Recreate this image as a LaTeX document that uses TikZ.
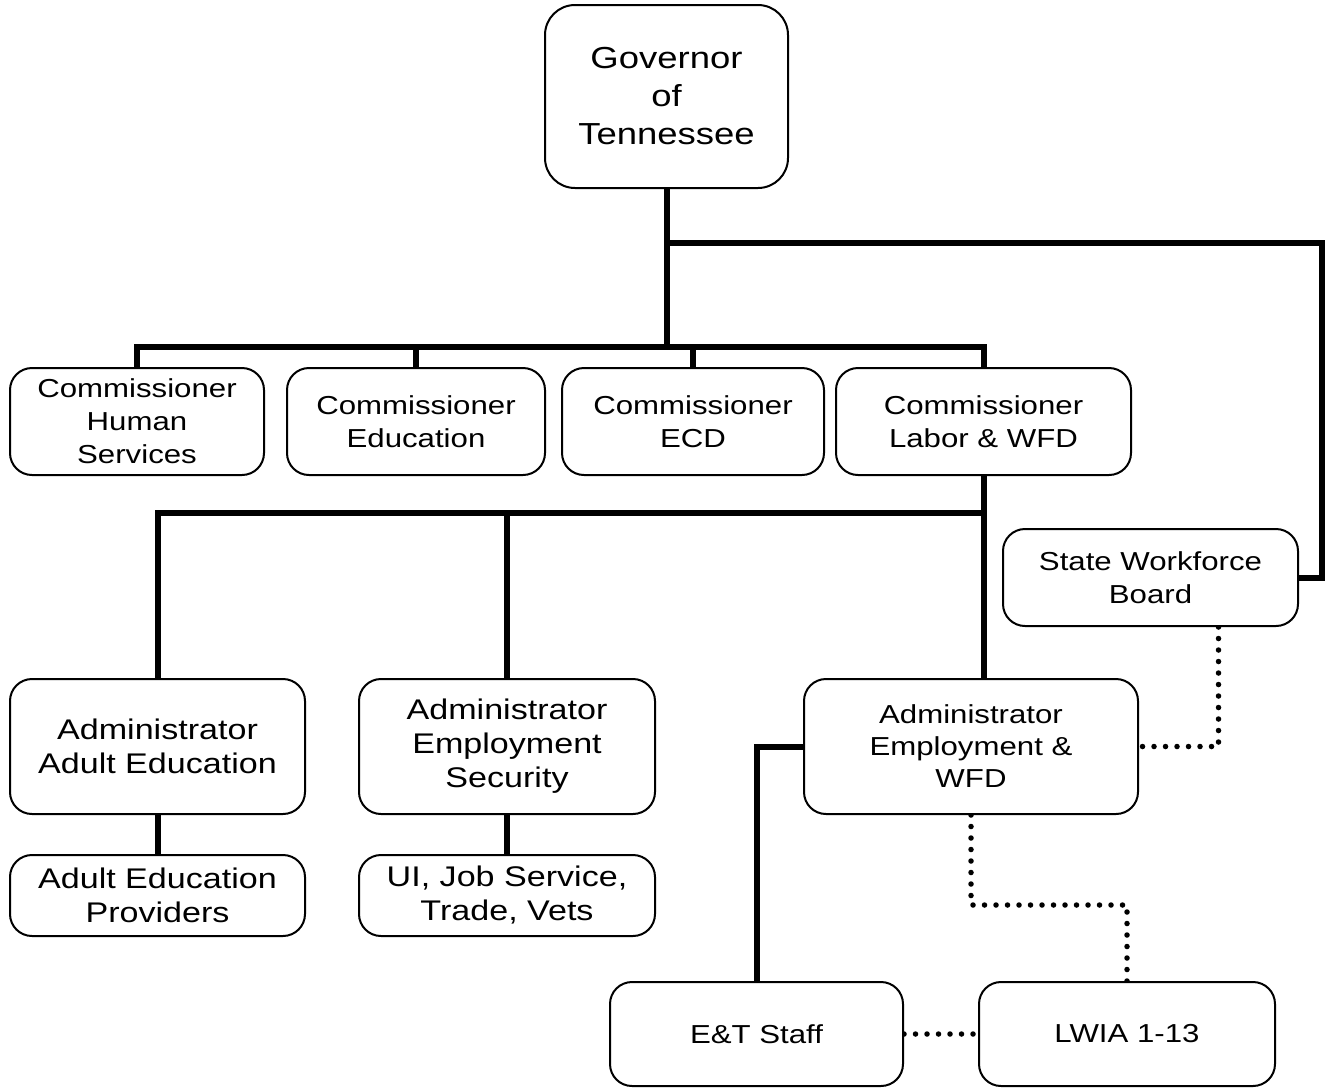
\documentclass[tikz,border=0pt]{standalone}
\usepackage{fontspec}
\newfontfamily\labfont[FakeStretch=1.2]{Liberation Sans}
\usetikzlibrary{calc,backgrounds}
\begin{document}
\begin{tikzpicture}[x=1pt,y=-1pt,
  box/.style={draw=black,line width=2pt,fill=white,rounded corners=22pt,inner sep=0pt,align=center,font=\labfont},
  govstyle/.style={box,rounded corners=30pt,font=\labfont\fontsize{30.4}{38}\selectfont},
  commstyle/.style={box,font=\labfont\fontsize{26}{33}\selectfont},
  bigstyle/.style={box,font=\labfont\fontsize{28.4}{34}\selectfont},
  smallstyle/.style={box,font=\labfont\fontsize{26}{32}\selectfont},
  conn/.style={line width=6pt},
  dotline/.style={line width=5.5pt,line cap=round,dash pattern=on 0pt off 11.5pt}]
\useasboundingbox (0,0) rectangle (1325,1088);
% nodes
\node[govstyle,minimum width=243pt,minimum height=183pt] (gov) at (666.5,96.5) {Governor\\of\\Tennessee};
\node[commstyle,minimum width=254pt,minimum height=107pt] (hs) at (137,421.5) {Commissioner\\Human\\Services};
\node[commstyle,minimum width=258pt,minimum height=107pt] (ed) at (416,421.5) {Commissioner\\Education};
\node[commstyle,minimum width=262pt,minimum height=107pt] (ecd) at (693,421.5) {Commissioner\\ECD};
\node[commstyle,minimum width=295pt,minimum height=107pt] (lab) at (983.5,421.5) {Commissioner\\Labor \& WFD};
\node[commstyle,minimum width=295pt,minimum height=97pt] (swb) at (1150.5,577.5) {State Workforce\\Board};
\node[bigstyle,minimum width=295pt,minimum height=135pt] (aae) at (157.5,746.5) {Administrator\\Adult Education};
\node[bigstyle,minimum width=296pt,minimum height=135pt] (aes) at (507,746.5) {Administrator\\Employment\\Security};
\node[smallstyle,minimum width=334pt,minimum height=135pt] (ewfd) at (971,746.5) {Administrator\\Employment \&\\WFD};
\node[bigstyle,minimum width=295pt,minimum height=81pt] (aep) at (157.5,895.5) {Adult Education\\Providers};
\node[bigstyle,minimum width=296pt,minimum height=81pt] (ui) at (507,895.5) {UI, Job Service,\\Trade, Vets};
\node[smallstyle,minimum width=293pt,minimum height=104pt] (et) at (756.5,1034) {E\&T Staff};
\node[smallstyle,minimum width=296pt,minimum height=104pt] (lwia) at (1127,1034) {LWIA 1-13};
% helper coordinates
\coordinate (bar1) at (666.5,347);
\coordinate (swbtop) at (1322,243);
\coordinate (bar2) at (985,513);
\coordinate (lk) at (971,905);
% connectors
\begin{scope}[on background layer]
\draw[conn] (gov.south) -- (bar1);
\draw[conn] (hs.north) |- (bar1) -| (lab.north);
\draw[conn] (ed.north) -- (ed.north |- bar1);
\draw[conn] (ecd.north) -- (ecd.north |- bar1);
\draw[conn] (gov.south |- swbtop) -- (swbtop) |- (swb.east);
\draw[conn] (lab.south) -- (lab.south |- ewfd.north);
\draw[conn] (aae.north) |- (bar2);
\draw[conn] (aes.north) -- (aes.north |- bar2);
\draw[conn] (aae.south) -- (aep.north);
\draw[conn] (aes.south) -- (ui.north);
\draw[conn] (ewfd.west) -| (et.north);
\draw[dotline] ($(swb.south)+(68,0)$) |- (ewfd.east);
\draw[dotline] (ewfd.south) -- (lk) -| (lwia.north);
\draw[dotline] (et.east) -- (lwia.west);
\end{scope}
\end{tikzpicture}
\end{document}
